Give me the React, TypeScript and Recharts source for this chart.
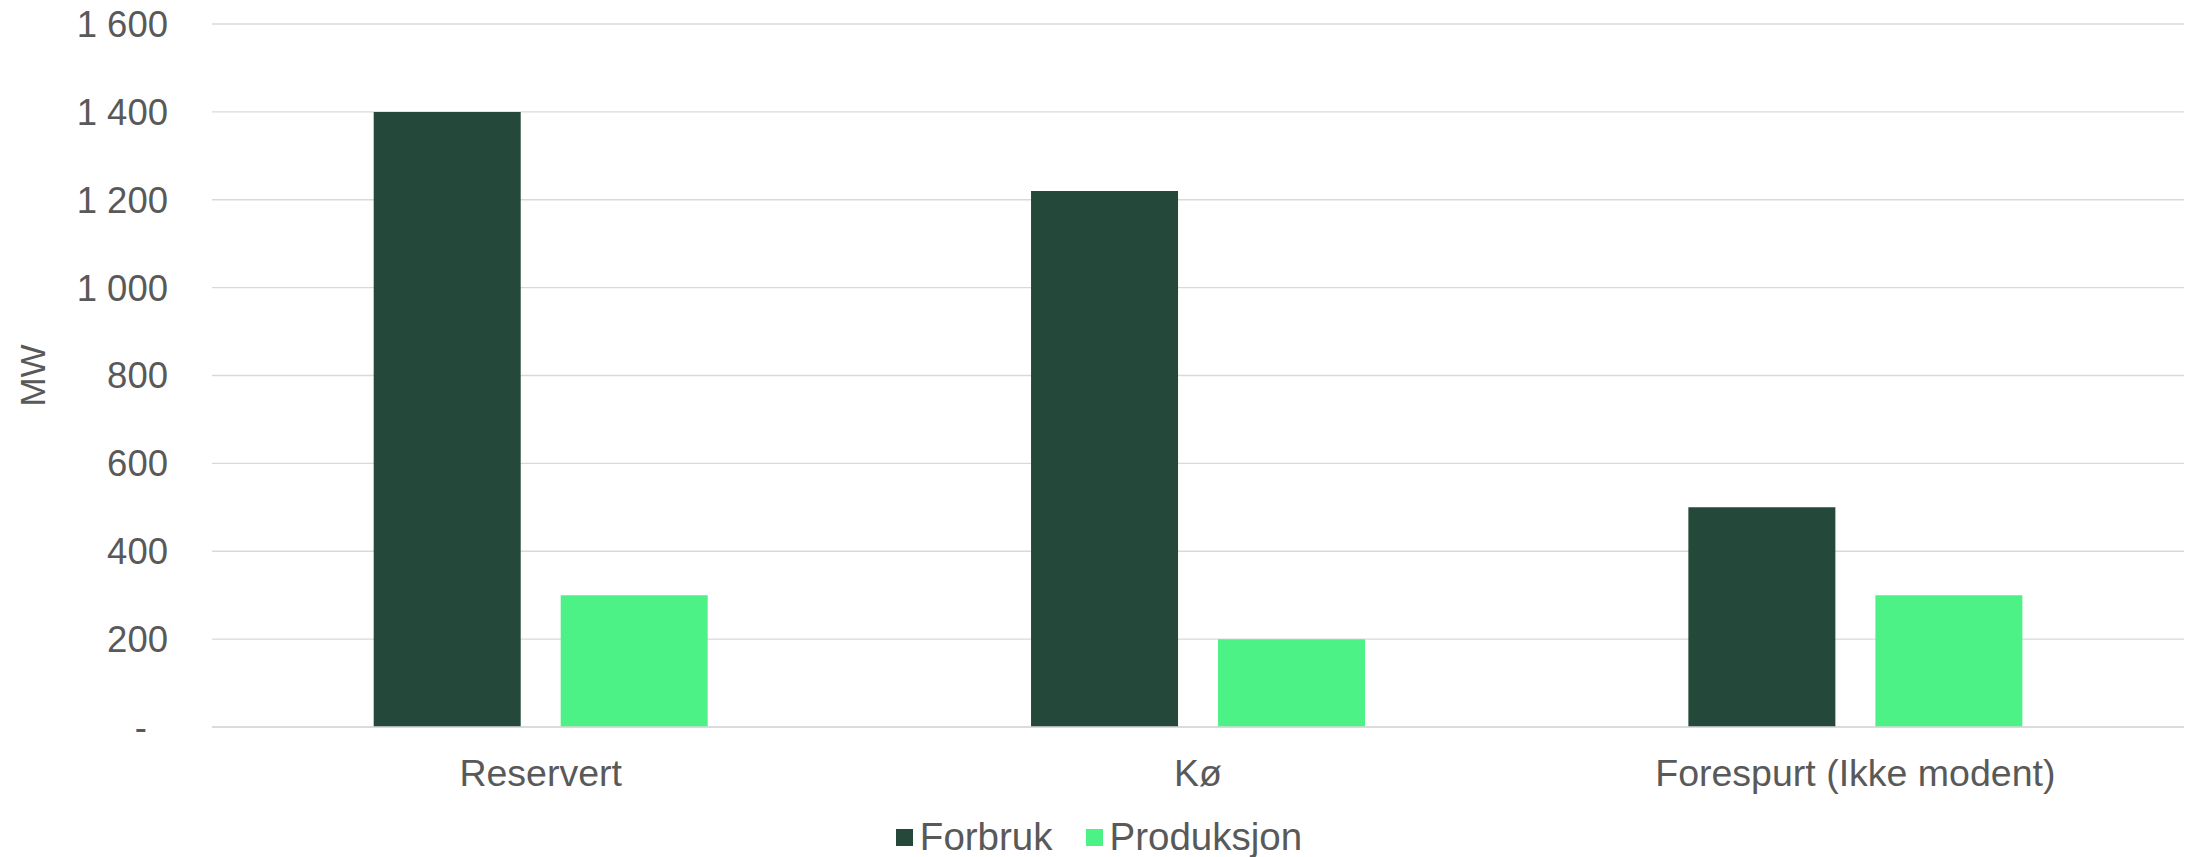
import { BarChart, Bar, XAxis, YAxis, CartesianGrid, Legend, Label } from "recharts";

const categories = ["Reservert", "Kø", "Forespurt (Ikke modent)"];
const forbruk = [1400, 1220, 500];
const produksjon = [300, 200, 300];
const yTicks = [0, 200, 400, 600, 800, 1000, 1200, 1400, 1600];

const FONT = "'Liberation Sans', Arial, sans-serif";
const TEXT = "#595959";
const DARK = "#24483A";
const LIGHT = "#4DF287";

const data = categories.map((c, i) => ({
  name: c,
  Forbruk: forbruk[i],
  Produksjon: produksjon[i],
}));

const fmt = (v: number) =>
  v === 0 ? "-" : String(v).replace(/\B(?=(\d{3})+(?!\d))/g, " ");

const YTick = (props: any) => {
  const { x, y, payload } = props;
  const zero = payload.value === 0;
  return (
    <text
      x={zero ? x - 21 : x}
      y={y}
      dy="0.355em"
      textAnchor="end"
      fill={TEXT}
      fontSize={36.5}
      fontFamily={FONT}
    >
      {fmt(payload.value)}
    </text>
  );
};

const LegendBox = () => (
  <div
    style={{
      display: "flex",
      justifyContent: "center",
      alignItems: "center",
      height: 40,
      fontFamily: FONT,
      fontSize: 38.5,
      color: TEXT,
      paddingLeft: 14,
    }}
  >
    <span style={{ display: "inline-block", width: 17, height: 17, background: DARK, marginRight: 7 }} />
    <span style={{ marginRight: 33 }}>Forbruk</span>
    <span style={{ display: "inline-block", width: 17, height: 17, background: LIGHT, marginRight: 7 }} />
    <span>Produksjon</span>
  </div>
);

export default function App() {
  return (
    <div style={{ position: "absolute", left: 0, top: 0 }}>
      <BarChart
        width={2188}
        height={857}
        data={data}
        margin={{ top: 24, right: 4, bottom: 0, left: 0 }}
        barCategoryGap="24.6%"
        barGap={40}
      >
        <CartesianGrid vertical={false} stroke="#D9D9D9" strokeWidth={1.3} />
        <XAxis
          dataKey="name"
          height={90}
          tickLine={false}
          tickSize={0}
          tickMargin={32}
          axisLine={{ stroke: "#D9D9D9", strokeWidth: 1.5 }}
          tick={{ fill: TEXT, fontSize: 37.5, fontFamily: FONT }}
        />
        <YAxis
          width={212}
          domain={[0, 1600]}
          ticks={yTicks}
          axisLine={false}
          tickLine={false}
          tickSize={0}
          tickMargin={44}
          tick={<YTick />}
        >
          <Label
            value="MW"
            angle={-90}
            position="insideLeft"
            offset={33}
            style={{ fill: TEXT, fontSize: 35, fontFamily: FONT, textAnchor: "middle" }}
          />
        </YAxis>
        <Legend verticalAlign="bottom" content={<LegendBox />} />
        <Bar dataKey="Forbruk" fill={DARK} isAnimationActive={false} />
        <Bar dataKey="Produksjon" fill={LIGHT} isAnimationActive={false} />
      </BarChart>
    </div>
  );
}
